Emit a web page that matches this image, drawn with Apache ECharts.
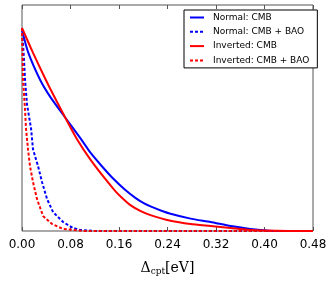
<!DOCTYPE html>
<html><head><meta charset="utf-8">
<script src="https://cdn.jsdelivr.net/npm/echarts@6/dist/echarts.min.js"></script>
<style>html,body{margin:0;padding:0;background:#fff}#c{width:333px;height:281px}</style>
</head><body><div id="c"></div>
<script>
const xTicks = [0, 0.08, 0.16, 0.24, 0.32, 0.40, 0.48];
const seriesNames = ['Normal: CMB', 'Normal: CMB + BAO', 'Inverted: CMB', 'Inverted: CMB + BAO'];
const normalCMB = [[0,0.99],[0.0099,0.882],[0.0298,0.745],[0.0463,0.662],[0.0712,0.559],[0.0977,0.451],[0.1126,0.387],[0.13,0.325],[0.149,0.262],[0.17,0.203],[0.187,0.163],[0.2,0.138],[0.212,0.121],[0.23,0.100],[0.245,0.085],[0.278,0.061],[0.311,0.044],[0.344,0.0245],[0.366,0.0147],[0.389,0.006],[0.419,0.0],[0.48,0]];
const normalBAO = [[0,1.0],[0.0033,0.843],[0.005,0.745],[0.0083,0.623],[0.0149,0.505],[0.0182,0.402],[0.0265,0.319],[0.0331,0.240],[0.0414,0.157],[0.0513,0.093],[0.0679,0.044],[0.0844,0.0147],[0.096,0.005],[0.121,0.0],[0.48,0]];
const invertedCMB = [[0,1.0],[0.0182,0.877],[0.0364,0.762],[0.0463,0.702],[0.0712,0.559],[0.091,0.451],[0.1126,0.353],[0.139,0.25],[0.155,0.193],[0.167,0.158],[0.18,0.125],[0.195,0.099],[0.2119,0.078],[0.245,0.050],[0.278,0.034],[0.311,0.0245],[0.344,0.0147],[0.372,0.006],[0.399,0.002],[0.44,0.0],[0.48,0]];
const invertedBAO = [[0,1.0],[0.0008,0.892],[0.0017,0.745],[0.005,0.598],[0.0066,0.505],[0.0099,0.402],[0.0132,0.319],[0.0182,0.240],[0.0248,0.157],[0.0348,0.0735],[0.0497,0.034],[0.0679,0.0098],[0.0844,0.005],[0.104,0.0],[0.48,0]];

const chart = echarts.init(document.getElementById('c'), null, {renderer:'canvas'});
const mk = (name, data, color, dashed) => ({
  name, type:'line', data, symbol:'none', showSymbol:false, smooth: dashed ? false : 0.2,
  lineStyle:{color, width:2, type: dashed ? [3,2] : 'solid'},
  itemStyle:{color}
});
chart.setOption({
  animation:false,
  grid:{left:22, right:20, top:5, bottom:49, show:true, borderColor:'#555', borderWidth:1, backgroundColor:'#fff'},
  legend:{
    orient:'vertical', left:184, top:10, width:126,
    data:seriesNames, itemWidth:14, itemHeight:8, itemGap:5.3,
    padding:[3,8,3,5], borderColor:'#000', borderWidth:1, backgroundColor:'#fff',
    itemStyle:{opacity:0},
    textStyle:{fontFamily:'DejaVu Sans', fontSize:9, color:'#000', padding:[0,0,0,4]}
  },
  xAxis:[{
    type:'value', min:0, max:0.48, interval:0.08,
    axisLine:{show:false}, splitLine:{show:false},
    axisTick:{show:true, inside:true, length:4, lineStyle:{color:'#555'}},
    axisLabel:{fontFamily:'DejaVu Sans', fontSize:12, color:'#000', margin:8,
      formatter:v=>v.toFixed(2)},
    name:'{d|Δ}{s|cpt}{d|[eV]}', nameLocation:'middle', nameGap:30,
    nameTextStyle:{rich:{d:{fontFamily:'DejaVu Serif', fontSize:14, color:'#000'},
                         s:{fontFamily:'DejaVu Serif', fontSize:9, color:'#000', verticalAlign:'bottom', padding:[6,0,0,0]}}}
  },{
    type:'value', position:'top', min:0, max:0.48, interval:0.08,
    axisLine:{show:false}, splitLine:{show:false}, axisLabel:{show:false},
    axisTick:{show:true, inside:true, length:4, lineStyle:{color:'#555'}}
  }],
  yAxis:{type:'value', min:0, max:1.113, axisLine:{show:false}, axisTick:{show:false}, axisLabel:{show:false}, splitLine:{show:false}},
  series:[
    mk(seriesNames[0], normalCMB, '#0000ff', false),
    mk(seriesNames[1], normalBAO, '#0000ff', true),
    mk(seriesNames[2], invertedCMB, '#ff0000', false),
    mk(seriesNames[3], invertedBAO, '#ff0000', true)
  ]
});
</script></body></html>
